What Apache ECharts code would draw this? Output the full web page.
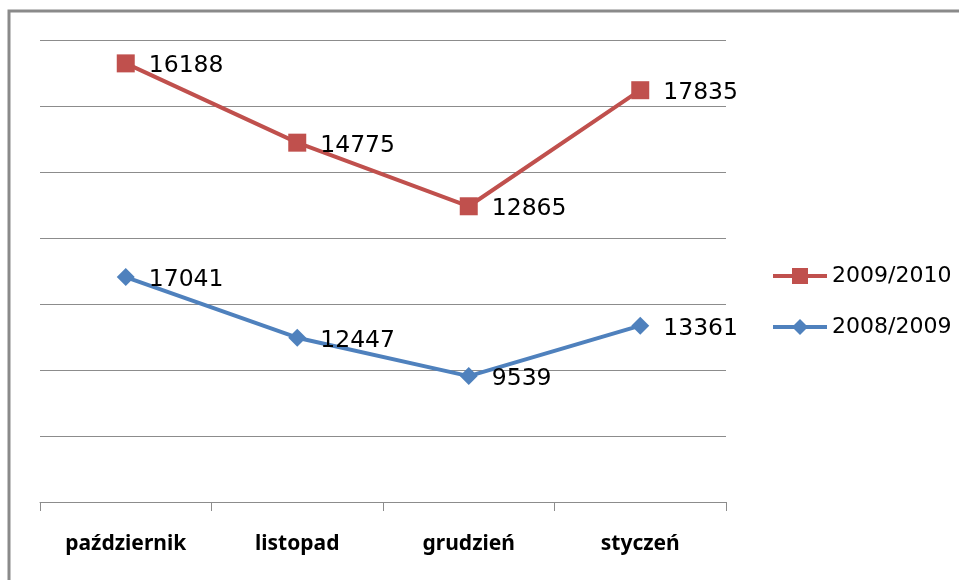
<!DOCTYPE html>
<html><head><meta charset="utf-8">
<script src="https://cdn.jsdelivr.net/npm/echarts@6/dist/echarts.min.js"></script>
<style>html,body{margin:0;padding:0;background:#fff}#c{width:959px;height:580px}</style>
</head><body><div id="c"></div>
<script>
const categories = ['październik', 'listopad', 'grudzień', 'styczeń'];
const s2008 = [17041, 12447, 9539, 13361];
const s2009 = [16188, 14775, 12865, 17835];
const seriesNames = ['2009/2010', '2008/2009'];

const chart = echarts.init(document.getElementById('c'));
const lbl = {show: true, position: 'right', distance: 14, offset: [0, 3], color: '#000', fontFamily: 'DejaVu Sans', fontSize: 23.5};
chart.setOption({
  animation: false,
  graphic: [{type: 'rect', shape: {x: 9, y: 11, width: 1200, height: 1000}, style: {fill: 'none', stroke: '#8a8a8a', lineWidth: 3}}],
  grid: {left: 40, right: 233, top: 40, bottom: 78},
  legend: {
    orient: 'vertical', left: 766, top: 260, itemWidth: 54, itemHeight: 20, itemGap: 29,
    data: seriesNames,
    lineStyle: {width: 4},
    textStyle: {fontFamily: 'DejaVu Sans', fontSize: 22, color: '#000', padding: [0, 0, 0, 0]}
  },
  xAxis: {
    type: 'category', data: categories, boundaryGap: true,
    axisLine: {lineStyle: {color: '#8c8c8c', width: 1}},
    axisTick: {show: true, length: 9, lineStyle: {color: '#8c8c8c'}},
    axisLabel: {margin: 32, color: '#000', fontFamily: 'Noto Sans', fontWeight: 'bold', fontSize: 21}
  },
  yAxis: {
    type: 'value', min: 0, max: 35000, interval: 5000,
    axisLabel: {show: false}, axisLine: {show: false}, axisTick: {show: false},
    splitLine: {lineStyle: {color: '#8c8c8c', width: 1}}
  },
  series: [
    {name: '2008/2009', type: 'line', stack: 'total', data: s2008, symbol: 'diamond', symbolSize: 18,
     lineStyle: {width: 4, color: '#4f81bd'}, itemStyle: {color: '#4f81bd'},
     label: Object.assign({}, lbl, {formatter: p => s2008[p.dataIndex]})},
    {name: '2009/2010', type: 'line', stack: 'total', data: s2009, symbol: 'rect', symbolSize: 18,
     lineStyle: {width: 4, color: '#c0504d'}, itemStyle: {color: '#c0504d'},
     label: Object.assign({}, lbl, {formatter: p => s2009[p.dataIndex]})}
  ]
});
</script></body></html>
